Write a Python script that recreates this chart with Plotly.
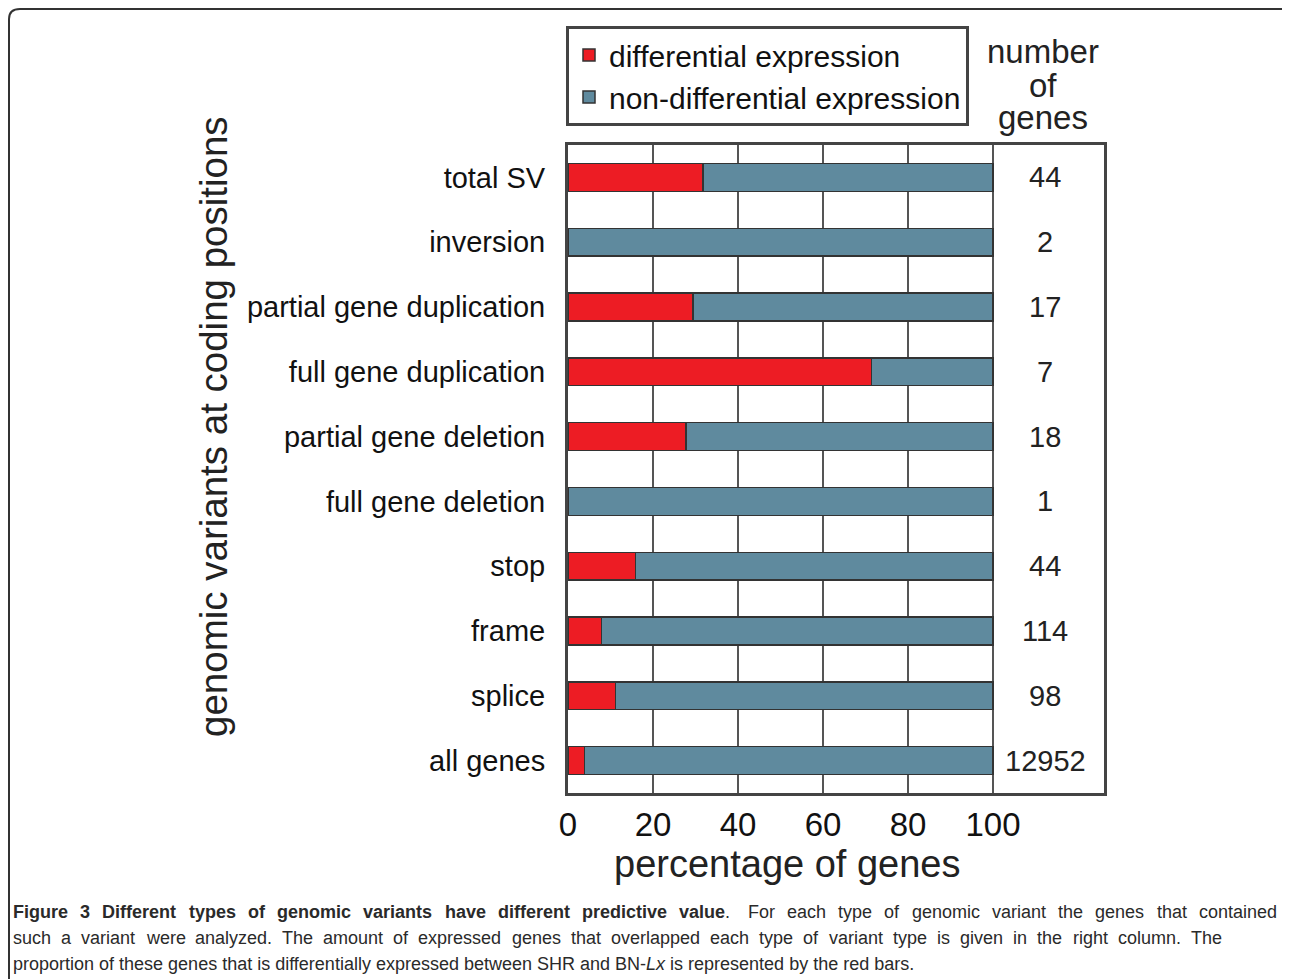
import plotly.graph_objects as go

categories = ["total SV", "inversion", "partial gene duplication", "full gene duplication",
              "partial gene deletion", "full gene deletion", "stop", "frame", "splice", "all genes"]
differential_pct = [31.8, 0.0, 29.4, 71.4, 27.8, 0.0, 15.9, 7.9, 11.2, 3.9]
non_differential_pct = [68.2, 100.0, 70.6, 28.6, 72.2, 100.0, 84.1, 92.1, 88.8, 96.1]
gene_counts = ["44", "2", "17", "7", "18", "1", "44", "114", "98", "12952"]
x_ticks = [0, 20, 40, 60, 80, 100]

caption_bold = "Figure 3 Different types of genomic variants have different predictive value"
caption_line1_rest = ". For each type of genomic variant the genes that contained"
caption_line2 = ("such a variant were analyzed. The amount of expressed genes that overlapped each type "
                 "of variant type is given in the right column. The")
caption_line3 = ("proportion of these genes that is differentially expressed between SHR and BN-<i>Lx</i> "
                 "is represented by the red bars.")

RED = "#ED1C24"
BLUE = "#5F8A9E"
EDGE = "#333333"
FRAME = "#444444"
SANS = "Liberation Sans, Arial, sans-serif"

OFF = 8                      # page body margin
W, H = 1290 - OFF, 979 - OFF
L, R, T, B = 568, 1104, 145, 793   # plot area in page pixels


def px(x):
    return (x - L) / (R - L)


def py(y):
    return (B - y) / (B - T)


# approximate Arial/Liberation advance widths (per 1000 em) for caption layout
REG = dict(zip("abcdefghijklmnopqrstuvwxyz", [556, 556, 500, 556, 556, 278, 556, 556, 222, 222, 500, 222, 833,
                                              556, 556, 556, 556, 333, 500, 278, 556, 500, 722, 500, 500, 500]))
REG.update({" ": 278, ".": 278, ",": 278, "-": 333, "T": 611, "F": 611, "D": 722, "S": 667, "H": 722,
            "R": 722, "A": 667, "B": 667, "N": 722, "L": 556, "3": 556})
BOLD = dict(zip("abcdefghijklmnopqrstuvwxyz", [556, 611, 556, 611, 556, 333, 611, 611, 278, 278, 556, 278, 889,
                                               611, 611, 611, 611, 389, 556, 333, 611, 556, 778, 556, 556, 500]))
BOLD.update({" ": 278, "F": 611, "D": 722, "3": 556})


def wid(s, size, bold=False):
    tab = BOLD if bold else REG
    return sum(tab.get(c, 556) for c in s) * size / 1000.0


fig = go.Figure()
fig.add_trace(go.Bar(
    y=categories, x=differential_pct, orientation="h", name="differential expression",
    marker=dict(color=RED, line=dict(color=EDGE, width=1.5)),
))
fig.add_trace(go.Bar(
    y=categories, x=non_differential_pct, orientation="h", name="non-differential expression",
    marker=dict(color=BLUE, line=dict(color=EDGE, width=1.5)),
))

# counts column
for c, n in zip(categories, gene_counts):
    fig.add_annotation(x=112.3, y=c, xref="x", yref="y", text=n, showarrow=False,
                       font=dict(family=SANS, size=29, color="#222222"),
                       xanchor="center", yanchor="middle")

# header of the counts column
for txt, yc in [("number", 51), ("of", 85), ("genes", 118)]:
    fig.add_annotation(x=px(1043), y=py(yc), xref="paper", yref="paper", text=txt, showarrow=False,
                       font=dict(family=SANS, size=33, color="#222222"),
                       xanchor="center", yanchor="middle")

# axis titles
fig.add_annotation(x=px(213), y=py(427), xref="paper", yref="paper",
                   text="genomic variants at coding positions", textangle=-90, showarrow=False,
                   font=dict(family=SANS, size=38.5, color="#222222"),
                   xanchor="center", yanchor="middle")
fig.add_annotation(x=px(787), y=py(864), xref="paper", yref="paper",
                   text="percentage of genes", showarrow=False,
                   font=dict(family=SANS, size=38, color="#222222"),
                   xanchor="center", yanchor="middle")

# caption (lines 1-2 justified word by word, line 3 ragged)
CAP = 18
CAP_COLOR = "#2a2a2a"


def justified(tokens, x0, x1, yc):
    widths = [wid(t, CAP, b) for t, b, _ in tokens]
    gap = (x1 - x0 - sum(widths)) / (len(tokens) - 1)
    x = x0
    for (t, b, html), w in zip(tokens, widths):
        fig.add_annotation(x=px(x), y=py(yc), xref="paper", yref="paper", text=html, showarrow=False,
                           font=dict(family=SANS, size=CAP, color=CAP_COLOR),
                           xanchor="left", yanchor="middle", borderpad=0, xshift=-1)
        x += w + gap


tok1 = [(w, True, f"<b>{w}</b>") for w in caption_bold.split(" ")]
last_w, _, _ = tok1[-1]
rest = caption_line1_rest.split(" ")
tok1[-1] = (last_w + rest[0], True, f"<b>{last_w}</b>{rest[0]}")
tok1 += [(w, False, w) for w in rest[1:]]
justified(tok1, 13, 1277, 912)
tok2 = [(w, False, w) for w in caption_line2.split(" ")]
justified(tok2, 13, 1222, 938)
fig.add_annotation(x=px(13), y=py(964), xref="paper", yref="paper", text=caption_line3, showarrow=False,
                   font=dict(family=SANS, size=CAP, color=CAP_COLOR),
                   xanchor="left", yanchor="middle", borderpad=0, xshift=-1)

# outer rounded frame
path = (f"M {px(9)},{py(995)} L {px(9)},{py(19)} Q {px(9)},{py(9)} {px(20)},{py(9)} "
        f"L {px(1282)},{py(9)} Q {px(1288)},{py(9)} {px(1288)},{py(15)} L {px(1288)},{py(995)}")
fig.add_shape(type="path", path=path, xref="paper", yref="paper",
              line=dict(color="#333333", width=2), layer="above")

fig.update_layout(
    width=W, height=H, autosize=False,
    margin=dict(l=L - OFF, r=W - (R - OFF), t=T - OFF, b=H - (B - OFF), pad=0),
    paper_bgcolor="white", plot_bgcolor="white",
    barmode="stack", bargap=0.57,
    font=dict(family=SANS, color="#222222"),
    legend=dict(
        x=px(566), y=py(26), xanchor="left", yanchor="top",
        bgcolor="white", bordercolor=FRAME, borderwidth=3,
        font=dict(family=SANS, size=30, color="#111111"),
        traceorder="normal", tracegroupgap=0,
    ),
    showlegend=True,
)
fig.update_xaxes(
    range=[0, (R - L) / 4.25], tickvals=x_ticks, ticktext=[str(v) for v in x_ticks],
    showgrid=True, gridcolor="#555555", gridwidth=1.5, zeroline=False,
    showline=True, linecolor=FRAME, linewidth=3, mirror=True,
    ticks="", tickfont=dict(family=SANS, size=33, color="#111111"),
    fixedrange=True,
)
fig.update_yaxes(
    categoryorder="array", categoryarray=categories, range=[9.5, -0.5],
    showgrid=False, zeroline=False,
    showline=True, linecolor=FRAME, linewidth=3, mirror=True,
    ticks="", ticklabelstandoff=14,
    tickfont=dict(family=SANS, size=29, color="#111111"),
    fixedrange=True,
)

fig.write_html("out.html")
